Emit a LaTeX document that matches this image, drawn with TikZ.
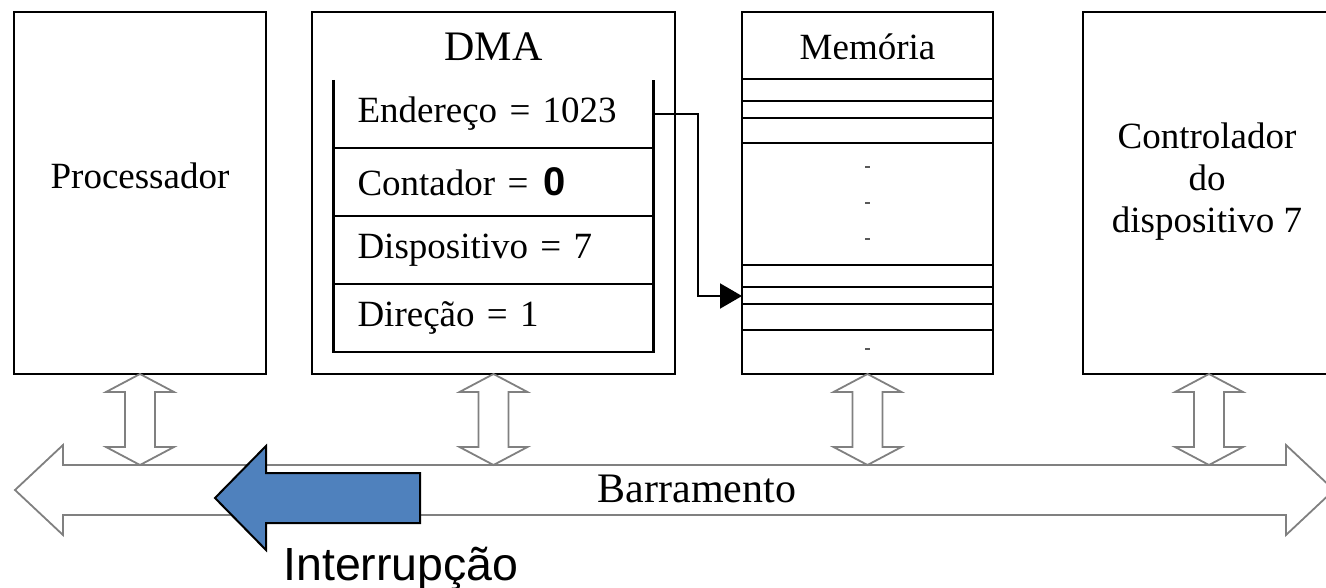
\documentclass[tikz,border=0pt]{standalone}
\usepackage{fontspec}
\setmainfont{Liberation Serif}
\setsansfont{Liberation Sans}
\usepackage{tikz}
\usetikzlibrary{calc}
\usetikzlibrary{positioning}
\usetikzlibrary{arrows.meta}
\definecolor{intblue}{RGB}{79,129,189}

\begin{document}
\begin{tikzpicture}[x=1pt, y=-1pt,
    unitbox/.style={rectangle, draw=black, line width=2.4pt, minimum width=252pt, minimum height=362pt, inner sep=0pt, outer sep=0pt},
    regcell/.style={rectangle, minimum height=68pt, text width=272pt, inner xsep=24pt, inner ysep=0pt, outer sep=0pt, align=left, font=\fontsize{37}{44}\selectfont},
    label/.style={font=\fontsize{37}{44}\selectfont},
    boxline/.style={draw=black, line width=2.4pt},
    linkarrow/.style={draw=black!50, line width=1.8pt, fill=white, line join=miter}]
    \useasboundingbox (0,0) rectangle (1326,588);

    % Units on the bus
    \node[unitbox] (proc) at (140,193) {};
    \node[unitbox, minimum width=363pt] (dma) [right=46pt of proc] {};
    \node[unitbox, minimum width=251pt] (mem) [right=67pt of dma] {};
    \node[unitbox] (ctrl) [right=90pt of mem] {};

    \node[label] (proctext) at ([yshift=17pt]proc.center) {Processador};
    \node[label, align=center, font=\fontsize{37}{42}\selectfont] (ctrltext) at ([xshift=-2pt, yshift=11pt]ctrl.center) {Controlador\\do\\dispositivo 7};

    % DMA registers
    \node[font=\fontsize{42}{48}\selectfont] (dmatext) at ([yshift=-35pt]dma.north) {DMA};
    \node[regcell] (reg1) at (493.5,114) {Endereço = 1023};
    \node[regcell] (reg2) [below=0pt of reg1] {Contador = \kern3pt{\sffamily\bfseries\fontsize{40}{44}\selectfont 0}};
    \node[regcell] (reg3) [below=0pt of reg2] {Dispositivo = 7};
    \node[regcell] (reg4) [below=0pt of reg3] {Direção = 1};

    \draw[boxline] (reg1.north west) -- (reg4.south west) -- (reg4.south east) -- (reg1.north east);
    \foreach \a in {reg1,reg2,reg3}
        \draw[boxline] (\a.south west) -- (\a.south east);

    % Memory words
    \node[label] (memtext) at (mem.north |- 0,47) {Memória};
    \foreach \y in {79,101,118,143,265,287,304,330}
        \draw[boxline] (mem.west |- 0,\y) -- (mem.east |- 0,\y);
    \foreach \y in {167,203,239,349}
        \fill[black!65] ($(mem.center |- 0,\y)+(-2.5,-1)$) rectangle ++(5,2);

    % Address pointer
    \coordinate (slot) at (mem.west |- 0,296);
    \draw[black, line width=2pt, -{Triangle[length=22pt, width=25pt]}] (reg1.east) -- ++(44,0) |- (slot);

    % Bus and links
    \draw[linkarrow] (15,490) -- (63,445) -- (63,465) -- (1286,465) -- (1286,445) -- (1334,490)
        -- (1286,535) -- (1286,515) -- (63,515) -- (63,535) -- cycle;
    \node[font=\fontsize{42}{48}\selectfont] (bustext) at (697,489) {Barramento};
    \foreach \n in {proc,dma,mem,ctrl}
        \draw[linkarrow] (\n.south) -- ++(34,18) -- ++(-19,0) -- ++(0,55) -- ++(19,0) -- ++(-34,18)
            -- ++(-34,-18) -- ++(19,0) -- ++(0,-55) -- ++(-19,0) -- cycle;

    % Interrupt
    \draw[fill=intblue, draw=black, line width=2pt, line join=miter] (420,473) -- (266,473) -- (266,446)
        -- (215,498) -- (266,550) -- (266,523) -- (420,523) -- cycle;
    \node[anchor=base, font=\sffamily\fontsize{46.5}{50}\selectfont] (inttext) at (401,580) {Interrupção};

\end{tikzpicture}
\end{document}
